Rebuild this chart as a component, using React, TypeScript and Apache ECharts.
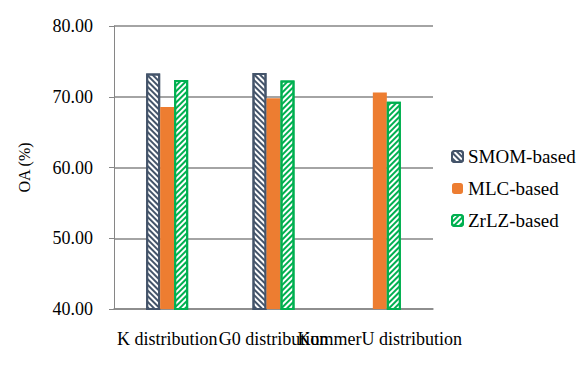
import React, { useEffect, useRef } from "react";
import * as echarts from "echarts";

const categories = ["K distribution", "G0 distribution", "KummerU distribution"];
const smomValues: (number | null)[] = [73.3, 73.35, null];
const mlcValues = [68.55, 69.8, 70.6];
const zrlzValues = [72.35, 72.3, 69.3];
const seriesNames = ["SMOM-based", "MLC-based", "ZrLZ-based"];

const FONT = "'Liberation Serif', 'Times New Roman', 'DejaVu Serif', serif";

export default function App() {
  const ref = useRef<HTMLDivElement>(null);
  useEffect(() => {
    const chart = echarts.init(ref.current!, null, { renderer: "svg" });
    const stripe = (color: string, rot: number) => ({
      symbol: "rect",
      symbolSize: 1,
      color,
      backgroundColor: "#ffffff",
      dashArrayX: [1, 0],
      dashArrayY: [2, 2],
      rotation: rot,
    });
    chart.setOption({
      animation: false,
      backgroundColor: "#ffffff",
      textStyle: { fontFamily: FONT },
      grid: { left: 114, top: 26, right: 144, bottom: 63 },
      legend: {
        orient: "vertical",
        left: 446,
        top: 142,
        itemWidth: 11,
        itemHeight: 11,
        itemGap: 13,
        textStyle: { fontFamily: FONT, fontSize: 19, color: "#000" },
        data: seriesNames,
      },
      xAxis: {
        type: "category",
        data: categories,
        axisLine: { lineStyle: { color: "#868686", width: 1.5 } },
        axisTick: { alignWithLabel: true, length: 4, lineStyle: { color: "#868686" } },
        axisLabel: {
          interval: 0,
          margin: 21,
          fontFamily: FONT,
          fontSize: 18,
          color: "#000",
        },
      },
      yAxis: {
        type: "value",
        min: 40,
        max: 80,
        interval: 10,
        name: "OA (%)",
        nameLocation: "middle",
        nameGap: 82,
        nameTextStyle: { fontFamily: FONT, fontSize: 16, color: "#000" },
        axisLine: { show: true, lineStyle: { color: "#868686", width: 1 } },
        axisTick: { show: true, length: 5, lineStyle: { color: "#868686" } },
        splitLine: { lineStyle: { color: "#868686", width: 1.5 } },
        axisLabel: {
          margin: 21,
          fontFamily: FONT,
          fontSize: 18,
          color: "#000",
          formatter: (v: number) => v.toFixed(2),
        },
      },
      series: [
        {
          name: seriesNames[0],
          type: "bar",
          data: smomValues,
          barWidth: 14,
          barGap: "0%",
          itemStyle: {
            color: "#ffffff",
            borderColor: "#44546A",
            borderWidth: 2,
            decal: stripe("#44546A", Math.PI / 4),
          },
        },
        {
          name: seriesNames[1],
          type: "bar",
          data: mlcValues,
          barWidth: 14,
          barGap: "0%",
          itemStyle: { color: "#ED7D31" },
        },
        {
          name: seriesNames[2],
          type: "bar",
          data: zrlzValues,
          barWidth: 14,
          barGap: "0%",
          itemStyle: {
            color: "#ffffff",
            borderColor: "#00B050",
            borderWidth: 2,
            decal: stripe("#00B050", -Math.PI / 4),
          },
        },
      ],
    });
    return () => chart.dispose();
  }, []);
  return <div ref={ref} style={{ width: 577, height: 372, position: "absolute", left: 0, top: 0 }} />;
}
